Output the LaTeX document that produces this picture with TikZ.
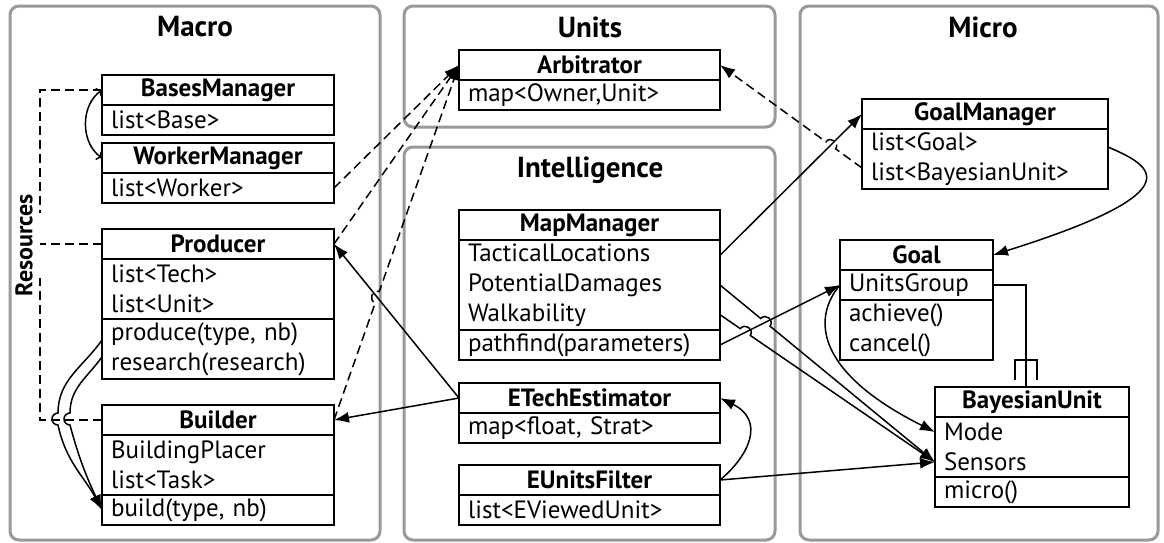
\documentclass[tikz,border=0pt]{standalone}
\usepackage{fontspec}
\setmainfont{PT Sans}
\usetikzlibrary{arrows.meta,calc,positioning}

\begin{document}
\begin{tikzpicture}[
  x=1pt, y=1pt,
  font=\fontsize{25}{30}\selectfont,
  panel/.style={draw=gray!80, line width=3pt, rounded corners=9pt},
  ptitle/.style={font=\fontsize{29}{32}\selectfont\bfseries},
  cname/.style={draw, line width=1.6pt, outer sep=0pt, inner sep=0pt,
                minimum height=30pt, anchor=north west,
                font=\fontsize{25}{28}\selectfont\bfseries},
  crow/.style={draw, line width=1.6pt, outer sep=0pt, inner xsep=9pt,
               inner ysep=0pt, align=left, anchor=north west},
  r1/.style={minimum height=30pt},
  r2/.style={minimum height=60pt},
  r3/.style={minimum height=90pt},
  conn/.style={-{Latex[length=15pt,width=11pt]}, line width=1.5pt},
  dline/.style={line width=1.5pt, dash pattern=on 9pt off 5pt},
  dconn/.style={dline, -{Latex[length=15pt,width=11pt]}},
  hop/.style={bend left=90, looseness=1.6},
  hopr/.style={bend right=90, looseness=1.6}
]
  \useasboundingbox (0,0) rectangle (1164,-542);

  % Panels
  \draw[panel] (10,-6) rectangle (380,-540);
  \draw[panel] (404,-6) rectangle (775,-127);
  \draw[panel] (404,-147) rectangle (775,-540);
  \draw[panel] (800,-6) rectangle (1158,-540);
  \node[ptitle] (tmacro) at (195,-27) {Macro};
  \node[ptitle] (tunits) at (590,-27) {Units};
  \node[ptitle] (tintel) at (590,-170) {Intelligence};
  \node[ptitle] (tmicro) at (983,-27) {Micro};

  % Macro
  \node[cname, minimum width=232pt] (bm) at (102,-75) {BasesManager};
  \node[crow, r1, text width=214pt] (bm-a) at (bm.south west) {list<Base>};
  \node[cname, minimum width=232pt] (wm) at (102,-143) {WorkerManager};
  \node[crow, r1, text width=214pt] (wm-a) at (wm.south west) {list<Worker>};
  \node[cname, minimum width=232pt] (prod) at (102,-229) {Producer};
  \node[crow, r2, text width=214pt] (prod-a) at (prod.south west) {list<Tech>\\list<Unit>};
  \node[crow, r2, text width=214pt] (prod-m) at (prod-a.south west) {produce(type, nb)\\research(research)};
  \node[cname, minimum width=232pt] (builder) at (102,-405) {Builder};
  \node[crow, r2, text width=214pt] (builder-a) at (builder.south west) {BuildingPlacer\\list<Task>};
  \node[crow, r1, text width=214pt] (builder-m) at (builder-a.south west) {build(type, nb)};
  \node[font=\fontsize{24}{28}\selectfont\bfseries, rotate=90] (res) at (24,-245) {Resources};

  % Units
  \node[cname, minimum width=261pt] (arb) at (459,-50) {Arbitrator};
  \node[crow, r1, text width=243pt] (arb-a) at (arb.south west) {map<Owner,Unit>};

  % Intelligence
  \node[cname, minimum width=261pt] (mm) at (459,-210) {MapManager};
  \node[crow, r3, text width=243pt] (mm-a) at (mm.south west) {TacticalLocations\\PotentialDamages\\Walkability};
  \node[crow, r1, text width=243pt] (mm-m) at (mm-a.south west) {pathfind(parameters)};
  \node[cname, minimum width=261pt] (ete) at (459,-383) {ETechEstimator};
  \node[crow, r1, text width=243pt] (ete-a) at (ete.south west) {map<float, Strat>};
  \node[cname, minimum width=261pt] (euf) at (459,-465) {EUnitsFilter};
  \node[crow, r1, text width=243pt] (euf-a) at (euf.south west) {list<EViewedUnit>};

  % Micro
  \node[cname, minimum width=246pt] (gm) at (862,-99) {GoalManager};
  \node[crow, r2, text width=228pt] (gm-a) at (gm.south west) {list<Goal>\\list<BayesianUnit>};
  \node[cname, minimum width=153pt] (goal) at (840,-240) {Goal};
  \node[crow, r1, text width=135pt] (goal-a) at (goal.south west) {UnitsGroup};
  \node[crow, r2, text width=135pt] (goal-m) at (goal-a.south west) {achieve()\\cancel()};
  \node[cname, minimum width=194pt] (bu) at (935,-387) {BayesianUnit};
  \node[crow, r2, text width=176pt] (bu-a) at (bu.south west) {Mode\\Sensors};
  \node[crow, r1, text width=176pt] (bu-m) at (bu-a.south west) {micro()};

  % Resources links
  \coordinate (rtop) at (40,-213);
  \coordinate (rbot) at (40,-278);
  \draw[dline] (bm.west) -| (rtop);
  \draw[dline] (builder.west) -| (rbot);
  \draw[dline] (prod.west) -- (prod.west -| rtop);
  \draw[conn, <->] (bm.west) to[bend right=55] (wm.west);

  % Producer -> Builder (jumping the dashed line)
  \coordinate (j1) at (58,-419);
  \coordinate (j2) at (70,-419);
  \draw[conn] ($(prod-m.north west)!0.35!(prod-m.south west)$) to[out=235, in=90] ($(j1)+(0,6)$)
    arc[start angle=90, end angle=270, radius=6] to[out=-78, in=118] (builder-m.west);
  \draw[conn] ($(prod-m.north west)!0.63!(prod-m.south west)$) to[out=235, in=90] ($(j2)+(0,6)$)
    arc[start angle=90, end angle=270, radius=6] to[out=-75, in=115] (builder-m.west);

  % Macro -> Arbitrator
  \foreach \s in {wm-a, prod} {
    \draw[dconn] (\s.east) -- (arb.west);
  }
  \coordinate (j3) at ($(builder.east)!0.346!(arb.west)$);
  \draw[dconn] (builder.east) -- ($(j3)!6pt!(builder.east)$) to[hop] ($(j3)!6pt!(arb.west)$) -- (arb.west);

  % ETechEstimator -> Macro
  \draw[conn] (ete.west) -- (prod.east);
  \draw[conn] (ete.west) -- (builder.east);
  \draw[conn] (euf.east) .. controls (750,-455) and (765,-420) .. (ete.east);

  % Intelligence -> Micro
  \coordinate (tl) at ($(mm-a.north east)!0.17!(mm-a.south east)$);
  \coordinate (pd) at ($(mm-a.north east)!0.5!(mm-a.south east)$);
  \coordinate (wk) at ($(mm-a.north east)!0.83!(mm-a.south east)$);
  \coordinate (md) at ($(bu-a.north west)!0.25!(bu-a.south west)$);
  \coordinate (sn) at ($(bu-a.north west)!0.75!(bu-a.south west)$);
  \draw[conn] (tl) -- (gm.west);
  \draw[conn] (mm-m.east) -- (goal-a.west);
  \coordinate (j5) at ($(pd)!0.211!(sn)$);
  \coordinate (j6) at ($(wk)!0.118!(sn)$);
  \draw[conn] (pd) -- ($(j5)!6pt!(pd)$) to[hop] ($(j5)!6pt!(sn)$) -- (sn);
  \draw[conn] (wk) -- ($(j6)!6pt!(wk)$) to[hop] ($(j6)!6pt!(sn)$) -- (sn);
  \draw[conn] (euf.east) -- (sn);

  % GoalManager -> Arbitrator
  \coordinate (gmb) at ($(gm-a.north west)!0.65!(gm-a.south west)$);
  \coordinate (j4) at ($(gmb)!0.22!(arb.east)$);
  \draw[dconn] (gmb) -- ($(j4)!6pt!(gmb)$) to[hopr] ($(j4)!6pt!(arb.east)$) -- (arb.east);

  % Micro
  \draw[conn] ($(gm-a.north east)!0.3!(gm-a.south east)$) .. controls (1150,-165) and (1200,-190) .. (goal.east);
  \draw[conn] (goal-a.west) .. controls (812,-318) and (815,-372) .. (md);
  \coordinate (bt) at ([xshift=-6pt]bu.north);
  \draw[line width=1.5pt] (goal-a.east) -| (bt);
  \draw[line width=1.5pt] ($(bt)+(-11,7)$) -- ++(0,20) -- ++(22,0) -- ++(0,-20);
\end{tikzpicture}
\end{document}
